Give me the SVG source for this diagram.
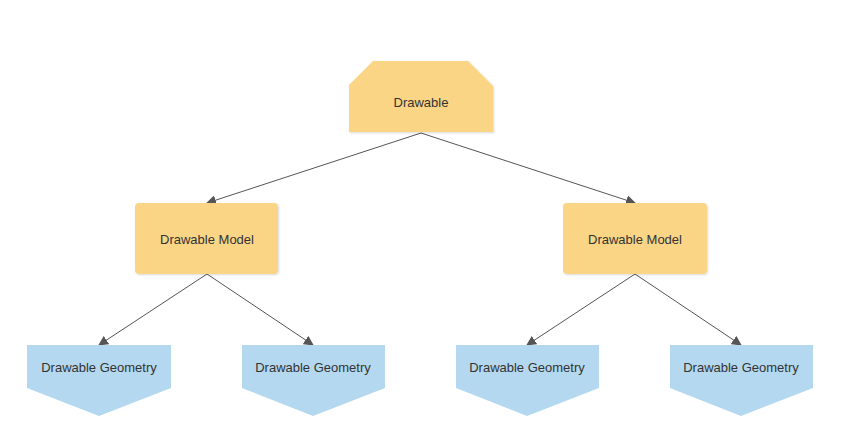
<svg xmlns="http://www.w3.org/2000/svg" width="846" height="448" viewBox="0 0 846 448">
<defs>
<style>
.t{font-family:"Liberation Sans",Arial,sans-serif;font-size:13px;fill:#333;text-anchor:middle;dominant-baseline:central}
.y{fill:#fad586}
.b{fill:#b3d8ef}
.c{stroke:#555;stroke-width:1;fill:none;marker-end:url(#a)}
</style>
<marker id="a" viewBox="0 0 10 10" refX="9" refY="5" markerWidth="10" markerHeight="10" markerUnits="userSpaceOnUse" orient="auto">
<path d="M0,0 L10,5 L0,10 z" fill="#555"/>
</marker>
<filter id="s" x="-10%" y="-10%" width="120%" height="130%">
<feDropShadow dx="1" dy="1" stdDeviation="1" flood-color="#000" flood-opacity="0.15"/>
</filter>
</defs>
<rect width="846" height="448" fill="#fff"/>
<g id="connectors">
<line class="c" x1="421" y1="133" x2="207" y2="203"/>
<line class="c" x1="421" y1="133" x2="635" y2="203"/>
<line class="c" x1="207" y1="274" x2="99" y2="345"/>
<line class="c" x1="207" y1="274" x2="313" y2="345"/>
<line class="c" x1="635" y1="274" x2="527" y2="345"/>
<line class="c" x1="635" y1="274" x2="741" y2="345"/>
</g>
<g id="drawable">
<polygon class="y" filter="url(#s)" points="349,85 373,61 468,61 493,86 493,132 349,132"/>
<text class="t" x="421" y="102">Drawable</text>
</g>
<g id="model1">
<rect class="y" filter="url(#s)" x="135" y="203" width="143" height="71" rx="4"/>
<text class="t" x="207" y="239">Drawable Model</text>
</g>
<g id="model2">
<rect class="y" filter="url(#s)" x="563" y="203" width="144" height="71" rx="4"/>
<text class="t" x="635" y="239">Drawable Model</text>
</g>
<g id="geom1">
<polygon class="b" points="27,345 171,345 171,388 99,416 27,388"/>
<text class="t" x="99" y="367">Drawable Geometry</text>
</g>
<g id="geom2">
<polygon class="b" points="242,345 385,345 385,388 313,416 242,388"/>
<text class="t" x="313" y="367">Drawable Geometry</text>
</g>
<g id="geom3">
<polygon class="b" points="456,345 599,345 599,388 527,416 456,388"/>
<text class="t" x="527" y="367">Drawable Geometry</text>
</g>
<g id="geom4">
<polygon class="b" points="670,345 813,345 813,388 741,416 670,388"/>
<text class="t" x="741" y="367">Drawable Geometry</text>
</g>
</svg>
